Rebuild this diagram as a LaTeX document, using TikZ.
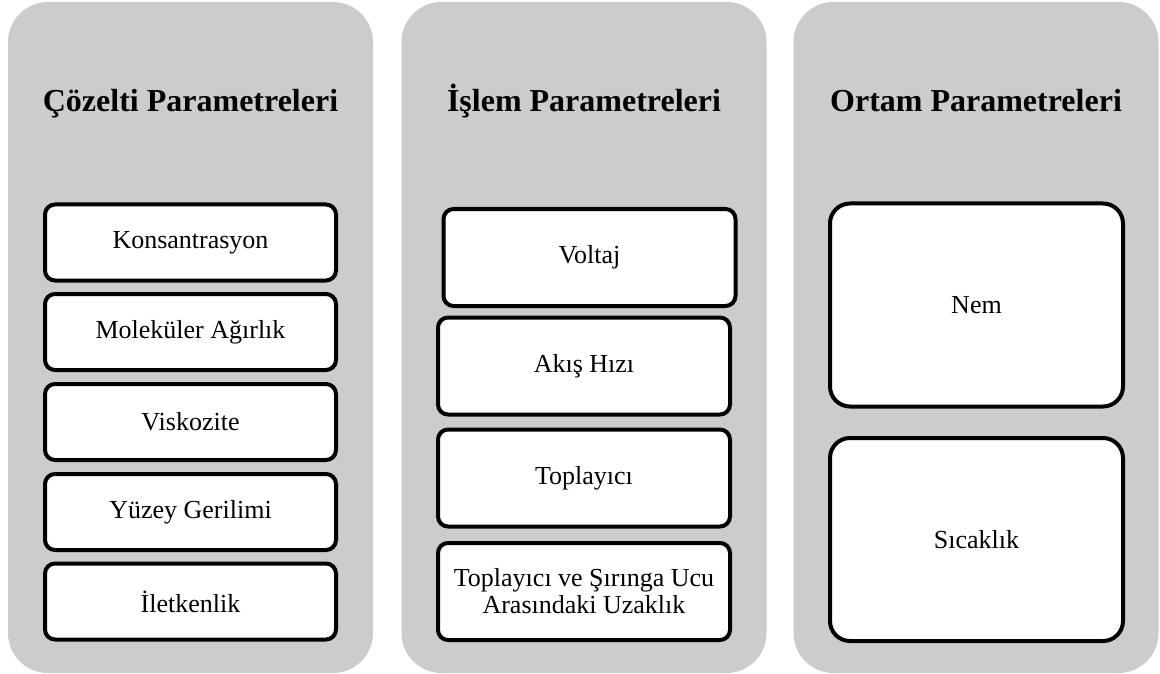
\documentclass[tikz,border=0pt]{standalone}
\usepackage{fontspec}
\setmainfont{Liberation Serif}
\definecolor{panelgray}{RGB}{204,204,204}
\tikzset{
  panel/.style={fill=panelgray, rounded corners=40pt, inner sep=0pt,
    minimum width=365pt, minimum height=671pt},
  title/.style={anchor=base, font=\fontsize{32}{38}\selectfont\bfseries},
  item/.style={draw=black, line width=4pt, fill=white, rounded corners=10pt,
    inner sep=0pt, align=center, font=\fontsize{26}{27}\selectfont},
  small/.style={item, minimum width=291pt, minimum height=76pt},
  mid/.style={item, minimum width=292pt, minimum height=97pt},
  big/.style={item, rounded corners=20pt, minimum width=293pt, minimum height=203pt}
}
\begin{document}
\begin{tikzpicture}[x=1pt, y=-1pt]
    \useasboundingbox (0,0) rectangle (1160,674);

    % three columns
    \node (cozelti) [panel] at (190.5,337.5) {};
    \node (islem) [panel] at (584,337.5) {};
    \node (ortam) [panel] at (976,337.5) {};

    \node (t1) [title] at (190.5,112) {Çözelti Parametreleri};
    \node (t2) [title] at (584,112) {İşlem Parametreleri};
    \node (t3) [title] at (976,112) {Ortam Parametreleri};

    % solution
    \node (kons) [small] at (190.5,242.5) {Konsantrasyon};
    \node (molek) [small] at (190.5,332) {Moleküler Ağırlık};
    \node (visk) [small] at (190.5,422) {Viskozite};
    \node (yuzey) [small] at (190.5,512) {Yüzey Gerilimi};
    \node (ilet) [small] at (190.5,601.5) {İletkenlik};

    % process
    \node (volt) [mid] at (589.5,257.5) {Voltaj};
    \node (akis) [mid] at (584,366) {Akış Hızı};
    \node (topl) [mid] at (584,478) {Toplayıcı};
    \node (uzak) [mid] at (584,591.5) {Toplayıcı ve Şırınga Ucu\\Arasındaki Uzaklık};

    % ambient
    \node (nem) [big] at (976.5,305) {Nem};
    \node (sicak) [big] at (976.5,539.5) {Sıcaklık};
\end{tikzpicture}
\end{document}
